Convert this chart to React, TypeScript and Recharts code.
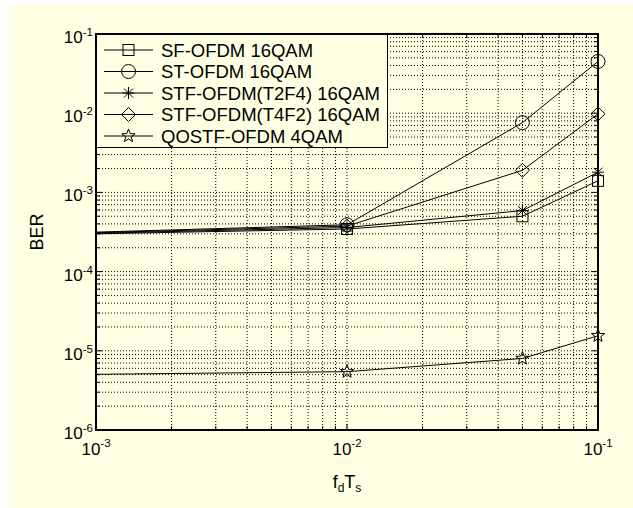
import React from 'react';
import { CartesianGrid, Legend, Line, LineChart, ReferenceArea, XAxis, YAxis } from 'recharts';

const BG = '#FFFFE3';
const FONT = '"Liberation Sans", Arial, sans-serif';

// fd*Ts points
const fdTs = [0.001, 0.01, 0.05, 0.1];

// BER values
const sfOfdm = [3.0e-4, 3.45e-4, 5.0e-4, 1.4e-3];
const stOfdm = [3.15e-4, 3.9e-4, 7.6e-3, 4.5e-2];
const stfT2F4 = [3.05e-4, 3.6e-4, 5.9e-4, 1.8e-3];
const stfT4F2 = [3.1e-4, 3.75e-4, 1.9e-3, 9.8e-3];
const qostf = [5.05e-6, 5.45e-6, 8.0e-6, 1.55e-5];

const seriesNames = [
  'SF-OFDM 16QAM',
  'ST-OFDM 16QAM',
  'STF-OFDM(T2F4) 16QAM',
  'STF-OFDM(T4F2) 16QAM',
  'QOSTF-OFDM 4QAM',
];
const seriesKeys = ['sf', 'st', 't2f4', 't4f2', 'qostf'];
const seriesMarkers = ['square', 'circle', 'asterisk', 'diamond', 'star'];

// log axis ticks (decade starts + 1..9 steps)
const xDecades = [1e-3, 1e-2];
const yDecades = [1e-6, 1e-5, 1e-4, 1e-3, 1e-2];
const steps = [1, 2, 3, 4, 5, 6, 7, 8, 9];
const xTicks = [...xDecades.flatMap((d) => steps.map((k) => Number((k * d).toPrecision(3)))), 0.1];
const yTicks = [...yDecades.flatMap((d) => steps.map((k) => Number((k * d).toPrecision(3)))), 0.1];

const data = fdTs.map((x, i) => ({
  x,
  sf: sfOfdm[i],
  st: stOfdm[i],
  t2f4: stfT2F4[i],
  t4f2: stfT4F2[i],
  qostf: qostf[i],
}));

const PLOT_W = 502;
const PLOT_H = 396;

const isMajor = (v: number) => Math.abs(Math.log10(v) - Math.round(Math.log10(v))) < 1e-6;

function Marker({ shape, cx, cy }: { shape: string; cx: number; cy: number }) {
  const s = { fill: 'none', stroke: '#000', strokeWidth: 1 };
  if (shape === 'square') return <rect x={cx - 5.5} y={cy - 5.5} width={11} height={11} {...s} />;
  if (shape === 'circle') return <circle cx={cx} cy={cy} r={7} {...s} />;
  if (shape === 'asterisk')
    return (
      <path
        d={`M${cx - 6},${cy}H${cx + 6}M${cx},${cy - 6}V${cy + 6}M${cx - 4.5},${cy - 4.5}L${cx + 4.5},${cy + 4.5}M${cx - 4.5},${cy + 4.5}L${cx + 4.5},${cy - 4.5}`}
        {...s}
      />
    );
  if (shape === 'diamond')
    return <path d={`M${cx},${cy - 7}L${cx + 7},${cy}L${cx},${cy + 7}L${cx - 7},${cy}Z`} {...s} />;
  const pts: string[] = [];
  for (let i = 0; i < 10; i++) {
    const r = i % 2 === 0 ? 7 : 2.9;
    const a = -Math.PI / 2 + (i * Math.PI) / 5;
    pts.push(`${cx + r * Math.cos(a)},${cy + r * Math.sin(a)}`);
  }
  return <polygon points={pts.join(' ')} {...s} />;
}

const XTick = (props: any) => {
  const { x, y, payload } = props;
  const v = payload.value as number;
  const major = isMajor(v);
  const len = major ? 6 : 4;
  return (
    <g>
      <line x1={x} x2={x} y1={y} y2={y - len} stroke="#000" />
      <line x1={x} x2={x} y1={y - PLOT_H} y2={y - PLOT_H + len} stroke="#000" />
      {major && (
        <text x={x} y={y + 25} textAnchor="middle" fontSize={17} fontFamily={FONT} fill="#000">
          <tspan>10</tspan>
          <tspan fontSize={11.5} dy={-8}>{Math.round(Math.log10(v))}</tspan>
        </text>
      )}
    </g>
  );
};

const YTick = (props: any) => {
  const { x, y, payload } = props;
  const v = payload.value as number;
  const major = isMajor(v);
  const len = major ? 6 : 4;
  return (
    <g>
      <line x1={x} x2={x + len} y1={y} y2={y} stroke="#000" />
      <line x1={x + PLOT_W} x2={x + PLOT_W - len} y1={y} y2={y} stroke="#000" />
      {major && (
        <text x={x - 3} y={y + 9} textAnchor="end" fontSize={17} fontFamily={FONT} fill="#000">
          <tspan>10</tspan>
          <tspan fontSize={11.5} dy={-7}>{Math.round(Math.log10(v))}</tspan>
        </text>
      )}
    </g>
  );
};

const renderLegend = () => (
  <svg width={292} height={114} style={{ display: 'block' }}>
    <rect x={0.5} y={0.5} width={291} height={113} fill={BG} stroke="#000" />
    {seriesNames.map((name, i) => {
      const y = 16 + i * 21.5;
      return (
        <g key={name}>
          <line x1={8} x2={57} y1={y} y2={y} stroke="#000" />
          <Marker shape={seriesMarkers[i]} cx={32.5} cy={y} />
          <text x={65} y={y + 6.5} fontSize={18.5} fontFamily={FONT} fill="#000">
            {name}
          </text>
        </g>
      );
    })}
  </svg>
);

export default function App() {
  return (
    <div style={{ position: 'absolute', left: 7, top: 6, width: 626, height: 502, background: BG }}>
      <LineChart
        width={626}
        height={502}
        data={data}
        margin={{ top: 28, right: 35, left: 0, bottom: 0 }}
        style={{ fontFamily: FONT }}
      >
        <CartesianGrid stroke="#000" strokeDasharray="1 2" strokeWidth={1} />
        <XAxis
          dataKey="x"
          type="number"
          scale="log"
          domain={[0.001, 0.1]}
          ticks={xTicks}
          interval={0}
          height={78}
          tickSize={0}
          tickMargin={0}
          axisLine={false}
          tickLine={false}
          tick={<XTick />}
          label={{
            content: ({ viewBox }: any) => (
              <text
                x={viewBox.x + viewBox.width / 2}
                y={viewBox.y + 58}
                textAnchor="middle"
                fontSize={18}
                fontFamily={FONT}
                fill="#000"
              >
                <tspan>f</tspan>
                <tspan fontSize={12} dy={4}>d</tspan>
                <tspan dy={-4}>T</tspan>
                <tspan fontSize={12} dy={4}>s</tspan>
              </text>
            ),
          }}
        />
        <YAxis
          type="number"
          scale="log"
          domain={[1e-6, 0.1]}
          ticks={yTicks}
          interval={0}
          width={89}
          tickSize={0}
          tickMargin={0}
          axisLine={false}
          tickLine={false}
          tick={<YTick />}
          label={{
            content: ({ viewBox }: any) => {
              const cx = 30;
              const cy = viewBox.y + viewBox.height / 2;
              return (
                <text
                  x={cx}
                  y={cy}
                  transform={`rotate(-90 ${cx} ${cy})`}
                  textAnchor="middle"
                  dominantBaseline="central"
                  fontSize={18}
                  fontFamily={FONT}
                  fill="#000"
                >
                  BER
                </text>
              );
            },
          }}
        />
        {seriesKeys.map((key, i) => (
          <Line
            key={key}
            dataKey={key}
            type="linear"
            stroke="#000"
            strokeWidth={1}
            isAnimationActive={false}
            activeDot={false}
            legendType="none"
            dot={(p: any) =>
              p.index === 0 ? (
                <g key={`${key}-${p.index}`} />
              ) : (
                <Marker key={`${key}-${p.index}`} shape={seriesMarkers[i]} cx={p.cx} cy={p.cy} />
              )
            }
          />
        ))}
        <ReferenceArea x1={0.001} x2={0.1} y1={1e-6} y2={0.1} fill="none" stroke="#000" strokeWidth={2} />
        <Legend
          layout="horizontal"
          verticalAlign="middle"
          align="center"
          content={renderLegend}
          wrapperStyle={{ position: 'absolute', left: 89, top: 28, width: 292, height: 114 }}
        />
      </LineChart>
    </div>
  );
}
